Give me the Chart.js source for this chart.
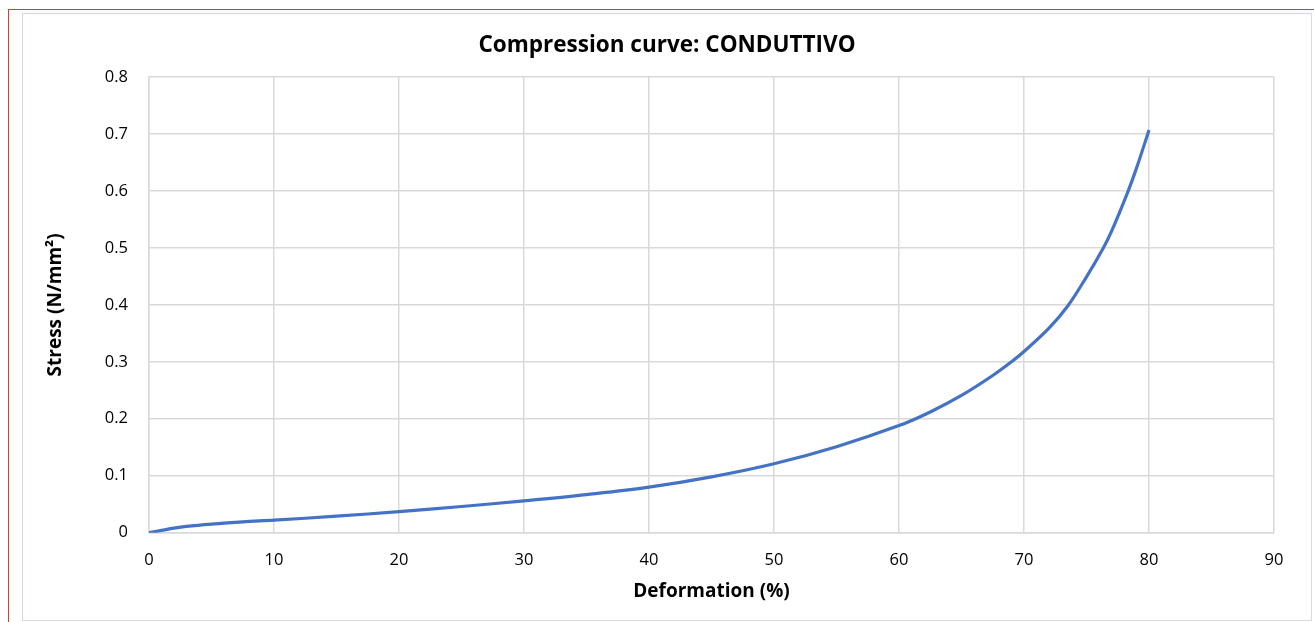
<!DOCTYPE html>
<html>
<head>
<meta charset="utf-8">
<script src="https://cdn.jsdelivr.net/npm/chart.js@4"></script>
<style>
  html, body { margin: 0; padding: 0; background: #fff; }
  body { width: 1314px; height: 622px; position: relative; overflow: hidden; }
  #frame { position: absolute; left: 8px; top: 9px; right: -5px; bottom: -5px;
           border-top: 1.5px solid #e8332f; border-left: 1.5px solid #e8332f; }
  #box { position: absolute; left: 22px; top: 13px; width: 1288px; height: 606px;
         border: 1px solid #d9d9d9; }
  #wrap { position: absolute; left: 0; top: 0; width: 1288px; height: 606px; }
</style>
</head>
<body>
<div id="frame"></div>
<div id="box"><div id="wrap"><canvas id="myChart"></canvas></div></div>
<script>
// valori
const deformation = [0, 1, 2, 3, 5, 7.5, 10, 15, 20, 25, 30, 35, 40, 45, 50, 55, 60, 62.5, 65, 67.5, 69, 70, 72, 73.5, 75, 76.3, 77, 78.3, 79, 79.9, 80];
const stress = [0, 0.004, 0.008, 0.011, 0.015, 0.019, 0.022, 0.029, 0.037, 0.046, 0.056, 0.067, 0.080, 0.098, 0.121, 0.151, 0.188, 0.212, 0.241, 0.276, 0.300, 0.318, 0.359, 0.398, 0.449, 0.498, 0.529, 0.598, 0.640, 0.700, 0.707];
const xRange = [0, 90, 10];
const yRange = [0, 0.8, 0.1];

const gridColor = '#d9d9d9';
const tickFont = { family: 'Open Sans', size: 16.5 };
const titleFont = { family: 'Open Sans', size: 19, weight: 'bold' };

const points = deformation.map((d, i) => ({ x: d, y: stress[i] }));

const config = {
    type: 'scatter',
    data: {
        datasets: [{
            label: 'CONDUTTIVO',
            data: points,
            showLine: true,
            borderColor: '#4472c4',
            backgroundColor: '#4472c4',
            borderWidth: 3.2,
            pointRadius: 0,
            tension: 0.35
        }]
    },
    options: {
        responsive: true,
        maintainAspectRatio: false,
        animation: false,
        layout: { padding: 0 },
        plugins: {
            legend: { display: false },
            tooltip: { enabled: false },
            title: {
                display: true,
                text: 'Compression curve: CONDUTTIVO',
                color: '#000',
                font: { family: 'Open Sans', size: 22.5, weight: 'bold' },
                padding: { top: 18, bottom: 18 }
            }
        },
        scales: {
            x: {
                type: 'linear',
                min: xRange[0],
                max: xRange[1],
                ticks: { stepSize: xRange[2], color: '#000', font: tickFont, padding: 18, maxRotation: 0 },
                grid: { color: gridColor, lineWidth: 1.5, drawTicks: false },
                border: { color: gridColor, width: 1.5 },
                title: { display: true, text: 'Deformation (%)', color: '#000', font: titleFont, padding: { top: 0, bottom: 17 } },
                afterFit: s => { s.height = 87.3; }
            },
            y: {
                min: yRange[0],
                max: yRange[1],
                ticks: { stepSize: yRange[2], color: '#000', font: tickFont, padding: 21 },
                grid: { color: gridColor, lineWidth: 1.5, drawTicks: false },
                border: { color: gridColor, width: 1.5 },
                title: { display: true, text: 'Stress (N/mm²)', color: '#000', font: titleFont, padding: { top: 21, bottom: 0 } },
                afterFit: s => { s.width = 126; }
            },
            y2: {
                position: 'right',
                min: 0,
                max: 1,
                ticks: { display: false },
                grid: { display: false, drawTicks: false },
                border: { display: false },
                afterFit: s => { s.width = 37; }
            }
        }
    }
};

const ctx = document.getElementById('myChart').getContext('2d');
const myChart = new Chart(ctx, config);
</script>
</body>
</html>
